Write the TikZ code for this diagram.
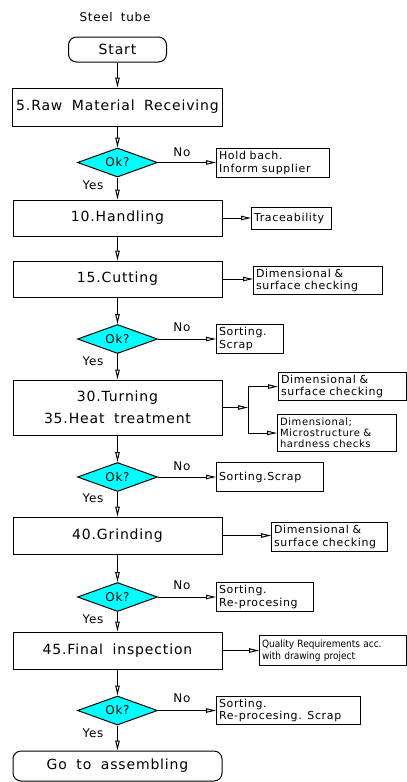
\documentclass[tikz,border=0pt]{standalone}
\usepackage{fontspec}
\setmainfont{DejaVu Sans}[LetterSpace=6,WordSpace=1.8]
\newfontfamily\qualfont{DejaVu Sans Condensed}
\usetikzlibrary{shapes.geometric,arrows.meta}
\definecolor{okcyan}{RGB}{0,255,255}

\begin{document}
\begin{tikzpicture}[x=1pt,y=1pt,yscale=-1,xscale=1,line width=1pt,
  proc/.style={draw, minimum width=209pt, minimum height=37pt, align=center, font=\fontsize{14}{22}\selectfont},
  term/.style={draw, rounded corners=8pt, font=\fontsize{14}{16}\selectfont},
  okbox/.style={diamond, draw, fill=okcyan, aspect=2.76, minimum width=80pt, minimum height=29pt, inner sep=0pt, font=\fontsize{12}{14}\selectfont},
  note/.style={draw, anchor=north west, align=left, inner sep=2.5pt, font=\fontsize{11}{12.5}\selectfont},
  flow/.style={-{Triangle[open,length=10pt,width=4.5pt]}},
  lbl/.style={inner sep=0pt, font=\fontsize{12}{14}\selectfont}]
\useasboundingbox (0,0) rectangle (407,782);

% Text Node
\node[lbl] (steel) at (115,17) {Steel tube};
%Shape: Rounded Rect
\node[term, minimum width=98pt, minimum height=25pt] (start) at (117.5,49.5) {Start};

%Process boxes and checks
\node[proc, minimum height=38pt] (raw) at (117.5,107) {5.Raw Material Receiving};
\node[okbox] (ok1) at (117.5,162.5) {Ok?};
\node[note, text width=108pt, minimum height=29pt] (hold) at (216,148) {Hold bach.\\Inform supplier};

\node[proc, minimum height=36pt] (handling) at (117.5,218) {10.Handling};
\node[note, text width=75pt, minimum height=22pt] (trace) at (251,207) {Traceability};

\node[proc, minimum height=36pt] (cutting) at (117.5,279) {15.Cutting};
\node[note, text width=124pt, minimum height=28pt] (dimcut) at (253,266) {Dimensional \&\\surface checking};
\node[okbox] (ok2) at (117.5,339) {Ok?};
\node[note, text width=62pt, minimum height=29pt] (scrap2) at (216,324) {Sorting.\\Scrap};

\node[proc, minimum height=55pt] (turning) at (117.5,407.5) {30.Turning\\35.Heat treatment};
\coordinate (split) at (248,407.5);
\node[note, text width=123pt, minimum height=28pt] (dimturn) at (278,372) {Dimensional \&\\surface checking};
\node[note, text width=114pt, minimum height=37pt, font=\fontsize{10}{11}\selectfont] (micro) at (277,414) {Dimensional;\\Microstructure \&\\hardness checks};
\node[okbox] (ok3) at (117.5,477) {Ok?};
\node[note, text width=102pt, minimum height=29pt] (scrap3) at (216,462) {Sorting.Scrap};

\node[proc] (grinding) at (117.5,535.5) {40.Grinding};
\node[note, text width=111pt, minimum height=29pt] (dimgrind) at (271,522) {Dimensional \&\\surface checking};
\node[okbox] (ok4) at (117.5,597) {Ok?};
\node[note, text width=92pt, minimum height=29pt] (reproc4) at (216,582) {Sorting.\\Re-procesing};

\node[proc] (final) at (117.5,650.5) {45.Final inspection};
\node[note, text width=142pt, minimum height=30pt, font=\qualfont\fontsize{10}{11.5}\selectfont] (quality) at (259,635) {Quality Requirements acc.\\with drawing project};
\node[okbox] (ok5) at (117.5,710.5) {Ok?};
\node[note, text width=139pt, minimum height=28pt] (reproc5) at (216,696) {Sorting.\\Re-procesing. Scrap};

\node[term, minimum width=209pt, minimum height=30pt] (go) at (117.5,766) {Go to assembling};

% Text Node
\node[lbl] (no1) at (182,152) {No};
\node[lbl] (no2) at (182,327) {No};
\node[lbl] (no3) at (182,466) {No};
\node[lbl] (no4) at (182,585) {No};
\node[lbl] (no5) at (182,698) {No};
\node[lbl] (yes1) at (93,185) {Yes};
\node[lbl] (yes2) at (93,361) {Yes};
\node[lbl] (yes3) at (93,498) {Yes};
\node[lbl] (yes4) at (93,619) {Yes};
\node[lbl] (yes5) at (93,733) {Yes};

%Straight Lines: main flow
\draw[flow] (start) -- (raw);
\draw[flow] (raw) -- (ok1);
\draw[flow] (ok1) -- (handling);
\draw[flow] (handling) -- (cutting);
\draw[flow] (cutting) -- (ok2);
\draw[flow] (ok2) -- (turning);
\draw[flow] (turning) -- (ok3);
\draw[flow] (ok3) -- (grinding);
\draw[flow] (grinding) -- (ok4);
\draw[flow] (ok4) -- (final);
\draw[flow] (final) -- (ok5);
\draw[flow] (ok5) -- (go);

%Straight Lines: side checks
\draw[flow] (ok1.east) -- (ok1.east -| hold.west);
\draw[flow] (handling.east) -- (handling.east -| trace.west);
\draw[flow] (cutting.east) -- (cutting.east -| dimcut.west);
\draw[flow] (ok2.east) -- (ok2.east -| scrap2.west);
\draw[flow] (turning.east) -- (split);
\draw (split |- dimturn.west) -- (split |- micro.west);
\draw[flow] (split |- dimturn.west) -- (dimturn.west);
\draw[flow] (split |- micro.west) -- (micro.west);
\draw[flow] (ok3.east) -- (ok3.east -| scrap3.west);
\draw[flow] (grinding.east) -- (grinding.east -| dimgrind.west);
\draw[flow] (ok4.east) -- (ok4.east -| reproc4.west);
\draw[flow] (final.east) -- (final.east -| quality.west);
\draw[flow] (ok5.east) -- (ok5.east -| reproc5.west);

\end{tikzpicture}
\end{document}
